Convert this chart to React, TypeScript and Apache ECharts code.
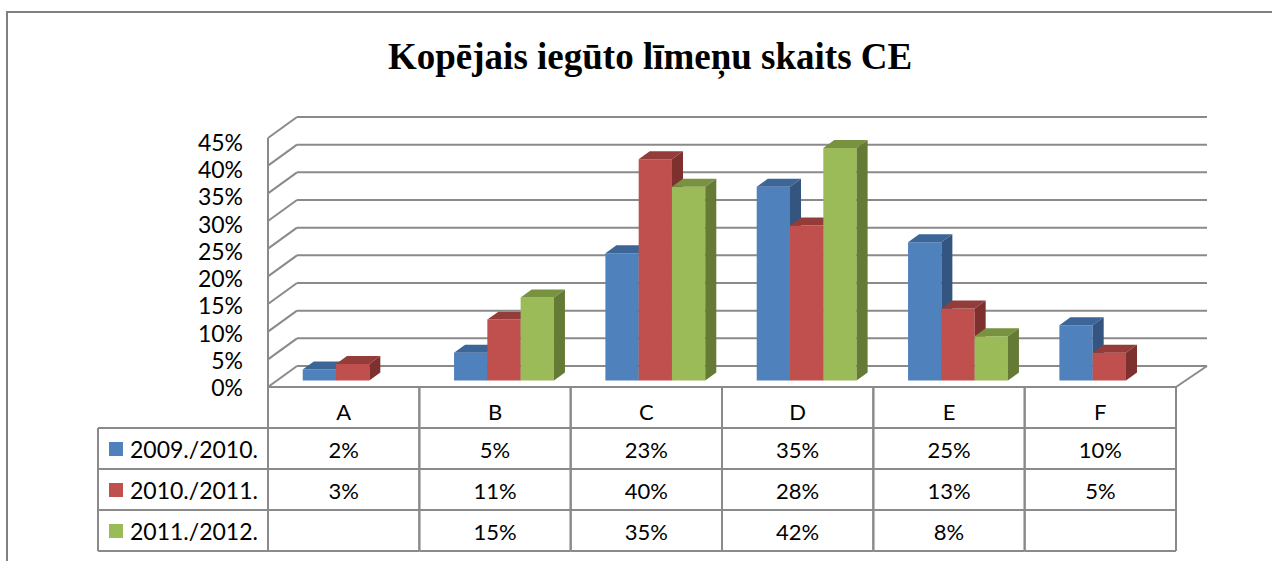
import React, { useEffect, useRef } from "react";
import * as echarts from "echarts";

const categories = ["A", "B", "C", "D", "E", "F"];
const seriesNames = ["2009./2010.", "2010./2011.", "2011./2012."];
const values2009 = [0.02, 0.05, 0.23, 0.35, 0.25, 0.1];
const values2010 = [0.03, 0.11, 0.4, 0.28, 0.13, 0.05];
const values2011 = [null, 0.15, 0.35, 0.42, 0.08, null];
const yTicks = [0, 0.05, 0.1, 0.15, 0.2, 0.25, 0.3, 0.35, 0.4, 0.45];
const titleText = "Kopējais iegūto līmeņu skaits CE";

const allValues = [values2009, values2010, values2011];
const colors = [
  { front: "#4F81BD", top: "#3D6698", side: "#33557F" },
  { front: "#C0504D", top: "#943C39", side: "#7D302E" },
  { front: "#9BBB59", top: "#78923F", side: "#657A35" },
];

const pct = (v: number | null) => (v == null ? "" : Math.round(v * 100) + "%");

const GRID = "#8a8a8a";
const DEPTH_X = 29;
const DEPTH_Y = -21;
const ROW_H = 41;
const LEGEND_LEFT = 98;
const FONT = "Lato";

export default function App() {
  const ref = useRef<HTMLDivElement>(null);
  useEffect(() => {
    document.body.style.margin = "0";
    if (!ref.current) return;
    const chart = echarts.init(ref.current, null, { renderer: "svg" });

    const barSeries = allValues.map((vals, s) => ({
      type: "custom",
      name: seriesNames[s],
      xAxisIndex: 0,
      yAxisIndex: 0,
      z: 3 + s,
      data: vals.map((v, i) => [i, v == null ? NaN : v]),
      renderItem: (params: any, api: any) => {
        const ci = api.value(0);
        const v = api.value(1);
        if (isNaN(v)) return null;
        const base = api.coord([ci, 0]);
        const topP = api.coord([ci, v]);
        const catW = api.size([1, 0])[0];
        const bw = catW * 0.22;
        const fx = DEPTH_X * 0.31;
        const fy = DEPTH_Y * 0.31;
        const dx = DEPTH_X * 0.38;
        const dy = DEPTH_Y * 0.38;
        const x0 = base[0] - 1.5 * bw + s * bw + fx;
        const by = base[1] + fy;
        const ty = topP[1] + fy;
        const c = colors[s];
        return {
          type: "group",
          children: [
            {
              type: "rect",
              shape: { x: x0, y: ty, width: bw, height: by - ty },
              style: { fill: c.front },
            },
            {
              type: "polygon",
              shape: {
                points: [
                  [x0, ty],
                  [x0 + dx, ty + dy],
                  [x0 + bw + dx, ty + dy],
                  [x0 + bw, ty],
                ],
              },
              style: { fill: c.top },
            },
            {
              type: "polygon",
              shape: {
                points: [
                  [x0 + bw, ty],
                  [x0 + bw + dx, ty + dy],
                  [x0 + bw + dx, by + dy],
                  [x0 + bw, by],
                ],
              },
              style: { fill: c.side },
            },
          ],
        };
      },
    }));

    const frameSeries = {
      type: "custom",
      xAxisIndex: 0,
      yAxisIndex: 0,
      z: 1,
      silent: true,
      data: [[0, 0]],
      renderItem: (params: any, api: any) => {
        const cs = params.coordSys;
        const children: any[] = [];
        const ls = { stroke: GRID, lineWidth: 2 };
        const left = cs.x;
        const right = cs.x + cs.width;
        const bottom = cs.y + cs.height;
        yTicks.forEach((t) => {
          const y = api.coord([0, t])[1];
          children.push({
            type: "line",
            shape: { x1: left, y1: y, x2: left + DEPTH_X, y2: y + DEPTH_Y },
            style: ls,
          });
          children.push({
            type: "line",
            shape: { x1: left + DEPTH_X, y1: y + DEPTH_Y, x2: right + DEPTH_X + 2, y2: y + DEPTH_Y },
            style: ls,
          });
        });
        children.push({
          type: "line",
          shape: { x1: left, y1: cs.y, x2: left, y2: bottom },
          style: ls,
        });
        children.push({
          type: "line",
          shape: { x1: left, y1: bottom, x2: right, y2: bottom },
          style: ls,
        });
        children.push({
          type: "line",
          shape: { x1: right, y1: bottom, x2: right + DEPTH_X + 2, y2: bottom + DEPTH_Y },
          style: ls,
        });
        return { type: "group", children };
      },
    };

    const tableSeries = {
      type: "custom",
      xAxisIndex: 0,
      yAxisIndex: 0,
      z: 2,
      silent: true,
      data: categories.map((_, i) => [i, 0]),
      renderItem: (params: any, api: any) => {
        const cs = params.coordSys;
        const i = api.value(0);
        const c = api.coord([i, 0]);
        const w = api.size([1, 0])[0];
        const l = c[0] - w / 2;
        const r = c[0] + w / 2;
        const top = cs.y + cs.height;
        const ls = { stroke: GRID, lineWidth: 2 };
        const ts = (text: string, x: number, y: number, align = "center", size = 22) => ({
          type: "text",
          x,
          y,
          style: {
            text,
            fill: "#000",
            font: `${size}px ${FONT}`,
            align,
            verticalAlign: "middle",
          },
        });
        const children: any[] = [];
        children.push({ type: "line", shape: { x1: l, y1: top, x2: l, y2: top + 4 * ROW_H }, style: ls });
        children.push({ type: "line", shape: { x1: r, y1: top, x2: r, y2: top + 4 * ROW_H }, style: ls });
        for (let k = 1; k <= 4; k++) {
          children.push({
            type: "line",
            shape: { x1: l, y1: top + k * ROW_H, x2: r, y2: top + k * ROW_H },
            style: ls,
          });
        }
        children.push(ts(categories[i], c[0], top + 24));
        allValues.forEach((vals, s) => {
          children.push(ts(pct(vals[i]), c[0], top + ROW_H * (s + 1) + ROW_H / 2 + 0.5));
        });
        if (i === 0) {
          for (let k = 1; k <= 4; k++) {
            children.push({
              type: "line",
              shape: { x1: LEGEND_LEFT, y1: top + k * ROW_H, x2: l, y2: top + k * ROW_H },
              style: ls,
            });
          }
          children.push({
            type: "line",
            shape: { x1: LEGEND_LEFT, y1: top + ROW_H, x2: LEGEND_LEFT, y2: top + 4 * ROW_H },
            style: ls,
          });
          seriesNames.forEach((name, s) => {
            const yc = top + ROW_H * (s + 1) + ROW_H / 2 + 0.5;
            children.push({
              type: "rect",
              shape: { x: LEGEND_LEFT + 11, y: yc - 7, width: 14, height: 14 },
              style: { fill: colors[s].front },
            });
            children.push(ts(name, LEGEND_LEFT + 32, yc, "left", 23));
          });
        }
        return { type: "group", children };
      },
    };

    chart.setOption({
      animation: false,
      graphic: [
        {
          type: "rect",
          shape: { x: 7, y: 12, width: 1400, height: 700 },
          style: { fill: "none", stroke: "#808080", lineWidth: 2 },
          z: 0,
        },
      ],
      title: {
        text: titleText,
        left: 383,
        top: 33,
        textStyle: {
          fontFamily: "Liberation Serif",
          fontWeight: "bold",
          fontSize: 37,
          color: "#000",
        },
      },
      grid: [
        { left: 268, top: 138, width: 908, height: 249 },
        { left: 268, top: 142, width: 908, height: 245 },
      ],
      xAxis: [
        { type: "category", gridIndex: 0, data: categories, show: false },
        { type: "category", gridIndex: 1, data: categories, show: false },
      ],
      yAxis: [
        { type: "value", gridIndex: 0, min: 0, max: 0.45, interval: 0.05, show: false },
        {
          type: "value",
          gridIndex: 1,
          min: 0,
          max: 0.45,
          interval: 0.05,
          axisLine: { show: false },
          axisTick: { show: false },
          splitLine: { show: false },
          axisLabel: {
            formatter: (v: number) => pct(v),
            fontFamily: FONT,
            fontSize: 23,
            color: "#000",
            margin: 25,
          },
        },
      ],
      series: [frameSeries, tableSeries, ...barSeries],
    });
    return () => chart.dispose();
  }, []);
  return <div ref={ref} style={{ width: 1272, height: 561 }} />;
}
